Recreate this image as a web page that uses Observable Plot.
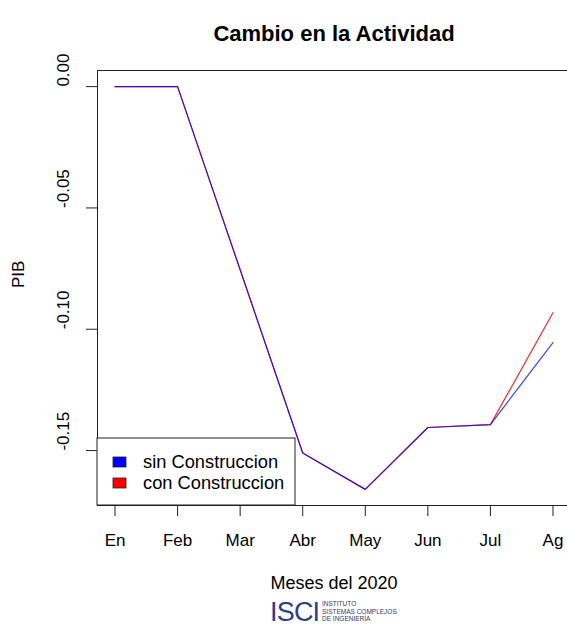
<!DOCTYPE html>
<html><head><meta charset="utf-8">
<script src="https://cdn.jsdelivr.net/npm/d3@7"></script>
<script src="https://cdn.jsdelivr.net/npm/@observablehq/plot@0.6"></script>
<style>body{margin:0;background:#fff;} #chart svg{font-family:"Liberation Sans",Arial,Helvetica,sans-serif;}</style>
</head><body><div id="chart"></div>
<script>
const months = ["En","Feb","Mar","Abr","May","Jun","Jul","Ag"];
const sinConstruccion = [0, 0, -0.0755, -0.151, -0.166, -0.1405, -0.1393, -0.1055];
const conConstruccion = [0, 0, -0.0755, -0.151, -0.166, -0.1405, -0.1393, -0.0932];
const yTicks = [0, -0.05, -0.10, -0.15];
const yTickLabels = ["0.00","-0.05","-0.10","-0.15"];
const seriesNames = ["sin Construccion","con Construccion"];
const seriesColors = ["blue","red"];
const title = "Cambio en la Actividad";
const xLabel = "Meses del 2020";
const yLabel = "PIB";

const font = '"Liberation Sans",Arial,Helvetica,sans-serif';
const rows = months.map((m,i)=>({i, m, sin: sinConstruccion[i], con: conConstruccion[i]}));
const xIdx = months.map((m,i)=>i);

const plot = Plot.plot({
  width: 567, height: 625,
  marginTop: 70, marginBottom: 120, marginLeft: 97, marginRight: -3,
  style: {fontFamily: font, fontSize: "17px", background: "white", overflow: "visible", color: "black"},
  x: {type: "linear", domain: [-0.28, 7.28]},
  y: {domain: [-0.17264, 0.00664]},
  marks: [
    Plot.line(rows, {x: "i", y: "con", stroke: seriesColors[1], strokeWidth: 1.2, strokeOpacity: 0.85}),
    Plot.line(rows, {x: "i", y: "sin", stroke: seriesColors[0], strokeWidth: 1.2, strokeOpacity: 0.75}),
    Plot.frame({stroke: "#222", strokeWidth: 1}),
    Plot.axisX({ticks: xIdx, tickSize: 11, tickPadding: 17, tickFormat: i => months[i], fontSize: 17, label: null, stroke: "#222"}),
    Plot.axisY({ticks: yTicks, tickSize: 11, tickFormat: () => "", label: null, stroke: "#222"}),
    Plot.text(yTicks, {y: d => d, text: (d, i) => yTickLabels[i], frameAnchor: "left", dx: -34, rotate: -90, fontSize: 17, fill: "black"}),
    Plot.text([title], {text: d => d, frameAnchor: "top", dy: -45, fontSize: 22, fontWeight: "bold", fill: "black"}),
    Plot.text([xLabel], {text: d => d, frameAnchor: "bottom", dy: 83, fontSize: 18, fill: "black"}),
    Plot.text([yLabel], {text: d => d, frameAnchor: "left", dx: -79, rotate: -90, fontSize: 17, fill: "black"})
  ]
});
document.getElementById("chart").appendChild(plot);

// legend
const svg = d3.select(plot);
const lg = svg.append("g").attr("text-anchor", "start");
lg.append("rect").attr("x", 97).attr("y", 438).attr("width", 198).attr("height", 67)
  .attr("fill", "white").attr("stroke", "#222");
seriesNames.forEach((name, k) => {
  const cy = 462 + k * 21;
  lg.append("rect").attr("x", 113).attr("y", cy - 5).attr("width", 13).attr("height", 10)
    .attr("fill", seriesColors[k]).attr("stroke", "#222").attr("stroke-width", 0.8);
  lg.append("text").attr("x", 143).attr("y", cy).attr("dy", "0.35em").attr("text-anchor", "start")
    .attr("font-size", 18.3).attr("font-family", font).attr("fill", "black").text(name);
});

// logo
const logo = svg.append("g").attr("text-anchor", "start");
logo.append("text").attr("x", 270).attr("y", 621).attr("font-size", 27).attr("text-anchor", "start")
  .attr("font-family", font).attr("fill", "#2e3d8f").attr("letter-spacing", -0.8).text("ISCI");
["INSTITUTO","SISTEMAS COMPLEJOS","DE INGENIERÍA"].forEach((t, k) => {
  logo.append("text").attr("x", 322).attr("y", 606 + k * 7.5).attr("font-size", 6.5).attr("text-anchor", "start")
    .attr("font-family", font).attr("fill", "#333a66").text(t);
});
</script></body></html>
